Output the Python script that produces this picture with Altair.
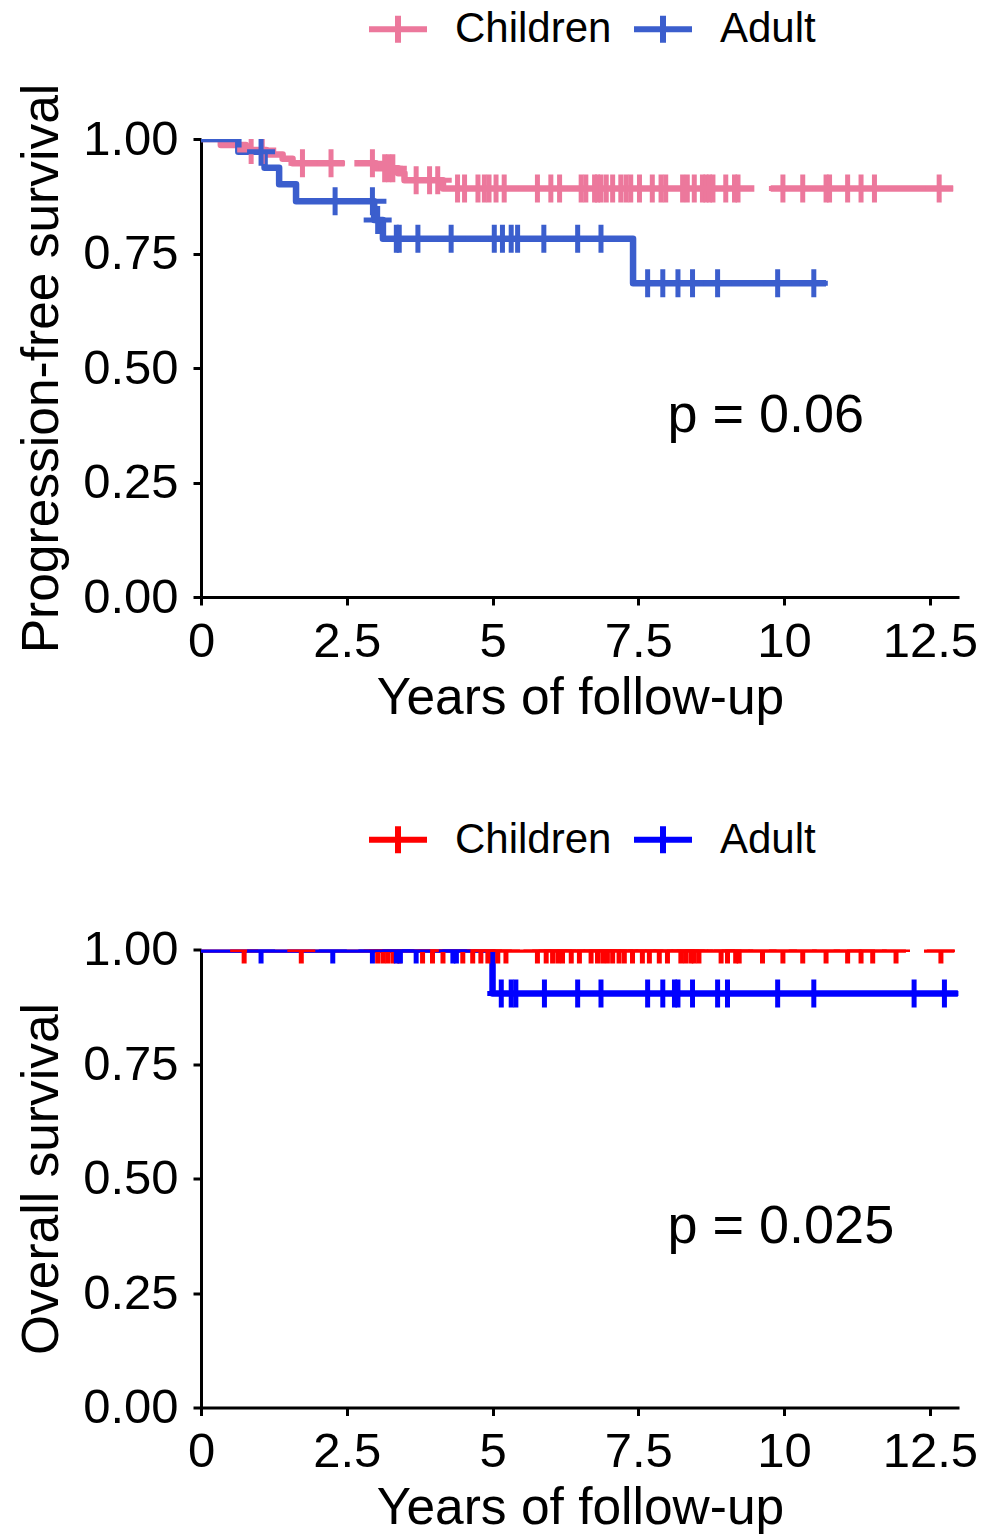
import altair as alt
import pandas as pd

FONT = "Liberation Sans"
groups = ["Children", "Adult"]

# ---------------- Progression-free survival (top panel) ----------------
pfs_child_step_t = [0, 0.34, 0.77, 1.12, 1.40, 1.57, 3.00, 3.38, 3.49, 4.15]
pfs_child_step_s = [1.0, 0.987, 0.976, 0.966, 0.957, 0.947, 0.936, 0.925, 0.910, 0.892]
pfs_child_end = 12.9
pfs_child_gaps = [(2.46, 2.63), (9.49, 9.77)]
pfs_child_cens = [0.86, 1.05, 1.74, 2.23, 2.94, 3.15, 3.22, 3.29, 3.69, 3.92, 4.06,
                  4.40, 4.52, 4.75, 4.86, 4.94, 5.06, 5.20, 5.77, 6.00, 6.15, 6.52,
                  6.60, 6.75, 6.80, 6.86, 6.95, 7.06, 7.20, 7.29, 7.37, 7.52, 7.74,
                  7.89, 7.97, 8.26, 8.34, 8.46, 8.60, 8.66, 8.72, 8.78, 9.00, 9.15,
                  9.21, 9.98, 10.32, 10.72, 10.78, 11.09, 11.32, 11.55, 12.66]

pfs_adult_step_t = [0, 0.64, 1.09, 1.34, 1.63, 2.97, 3.12, 7.41]
pfs_adult_step_s = [1.0, 0.972, 0.937, 0.901, 0.864, 0.823, 0.782, 0.685]
pfs_adult_end = 10.72
pfs_adult_gaps = []
pfs_adult_cens = [1.03, 2.30, 2.94, 3.03, 3.35, 3.40, 3.72, 4.29, 5.03, 5.17, 5.32,
                  5.43, 5.88, 6.46, 6.86, 7.66, 7.92, 8.18, 8.43, 8.86, 9.89, 10.51]

# ---------------- Overall survival (bottom panel) ----------------
os_child_step_t = [0]
os_child_step_s = [1.0]
os_child_end = 12.92
os_child_gaps = [(12.09, 12.40)]
os_child_cens = [0.74, 1.72, 3.03, 3.12, 3.20, 3.29, 3.40, 3.80, 3.97, 4.15, 4.49,
                 4.66, 4.80, 4.92, 5.09, 5.23, 5.77, 5.92, 6.03, 6.12, 6.20, 6.35,
                 6.49, 6.69, 6.80, 6.89, 6.97, 7.06, 7.17, 7.26, 7.40, 7.57, 7.69,
                 7.86, 8.00, 8.23, 8.31, 8.40, 8.46, 8.54, 8.92, 9.03, 9.17, 9.23,
                 9.63, 9.98, 10.32, 10.72, 11.09, 11.32, 11.52, 11.92, 12.69]

os_adult_step_t = [0, 5.0]
os_adult_step_s = [1.0, 0.904]
os_adult_end = 12.98
os_adult_gaps = []
os_adult_cens = [1.03, 2.26, 2.94, 3.35, 3.42, 3.69, 4.32, 4.38, 5.15, 5.32, 5.40,
                 5.89, 6.46, 6.86, 7.66, 7.92, 8.12, 8.18, 8.43, 8.86, 9.03, 9.89,
                 10.51, 12.23, 12.75]

pfs_colors = ["#EC789C", "#3B5ECD"]
os_colors = ["#FF0000", "#0000FF"]

p_labels = ["p = 0.06", "p = 0.025"]
p_x = [8.0, 8.0]
p_y = [0.36, 0.36]

x_ticks = [0, 2.5, 5, 7.5, 10, 12.5]
y_ticks = [0, 0.25, 0.5, 0.75, 1.0]


def surv_at(step_t, step_s, t):
    s = step_s[0]
    for ti, si in zip(step_t, step_s):
        if t >= ti:
            s = si
    return s


def line_rows(step_t, step_s, end, gaps, group):
    bounds = [0.0] + [v for g in gaps for v in g] + [end]
    rows = []
    for k in range(0, len(bounds), 2):
        a, b = bounds[k], bounds[k + 1]
        pts = [a] + [t for t in step_t if a < t < b] + [b]
        for t in pts:
            rows.append({"time": t, "surv": surv_at(step_t, step_s, t),
                         "group": group, "seg": f"{group}{k}"})
    return rows


def cens_rows(step_t, step_s, cens, group):
    return [{"time": t, "surv": surv_at(step_t, step_s, t), "group": group} for t in cens]


PLUS = "M0,-1L0,1M-1,0L1,0"
LEG_SYM = "M-2,0L2,0M0,-0.93L0,0.93"


def panel(child, adult, colors, ylab, ptxt, px, py):
    color = alt.Color(
        "group:N",
        scale=alt.Scale(domain=groups, range=colors),
        legend=alt.Legend(
            title=None, orient="none", legendX=176, legendY=-131,
            direction="horizontal", symbolType=LEG_SYM, symbolSize=841,
            symbolStrokeWidth=6, symbolFillColor="transparent",
            labelFont=FONT, labelFontSize=42, labelColor="black",
            labelOffset=36, columnPadding=10, padding=0,
        ),
    )
    x = alt.X("time:Q", scale=alt.Scale(domain=[0, 13], nice=False, zero=False),
              axis=alt.Axis(values=x_ticks, format="~g", title="Years of follow-up",
                            labelFlush=False))
    y = alt.Y("surv:Q", scale=alt.Scale(domain=[0, 1], nice=False),
              axis=alt.Axis(values=y_ticks, format=".2f", title=ylab))

    layers = []
    for g, (st, ss, end, gaps, cens) in zip(groups, [child, adult]):
        ldf = pd.DataFrame(line_rows(st, ss, end, gaps, g))
        layers.append(
            alt.Chart(ldf).mark_line(interpolate="step-after", strokeWidth=6.5,
                                     clip=True, strokeJoin="round")
            .encode(x=x, y=y, color=color, detail="seg:N")
        )
    for g, (st, ss, end, gaps, cens) in zip(groups, [child, adult]):
        cdf = pd.DataFrame(cens_rows(st, ss, cens, g))
        layers.append(
            alt.Chart(cdf).mark_point(shape=PLUS, size=784, strokeWidth=5,
                                      filled=False, opacity=1, clip=True)
            .encode(x=x, y=y, color=color)
        )
    tdf = pd.DataFrame({"time": [px], "surv": [py], "label": [ptxt]})
    layers.append(
        alt.Chart(tdf).mark_text(align="left", baseline="alphabetic", font=FONT,
                                 fontSize=54, color="black")
        .encode(x=alt.X("time:Q"), y=alt.Y("surv:Q"), text="label:N")
    )
    return alt.layer(*layers).properties(width=758, height=458)


top = panel(
    (pfs_child_step_t, pfs_child_step_s, pfs_child_end, pfs_child_gaps, pfs_child_cens),
    (pfs_adult_step_t, pfs_adult_step_s, pfs_adult_end, pfs_adult_gaps, pfs_adult_cens),
    pfs_colors, "Progression-free survival", p_labels[0], p_x[0], p_y[0],
)
bottom = panel(
    (os_child_step_t, os_child_step_s, os_child_end, os_child_gaps, os_child_cens),
    (os_adult_step_t, os_adult_step_s, os_adult_end, os_adult_gaps, os_adult_cens),
    os_colors, "Overall survival", p_labels[1], p_x[1], p_y[1],
)

chart = (
    alt.vconcat(top, bottom, spacing=94.5)
    .resolve_scale(color="independent")
    .configure_view(stroke=None)
    .configure_axis(
        grid=False, domainColor="black", domainWidth=3, tickColor="black",
        tickWidth=3, tickSize=8, labelFont=FONT, labelFontSize=49,
        labelColor="black", titleFont=FONT, titleFontSize=51.5,
        titleFontWeight="normal", titleColor="black",
    )
    .configure_axisX(labelPadding=12, titlePadding=6)
    .configure_axisY(labelPadding=15, titlePadding=14)
    .properties(padding={"left": 8, "top": 0, "right": 0, "bottom": 0})
)

chart.save("out.html", embed_options={"renderer": "svg", "actions": False})
